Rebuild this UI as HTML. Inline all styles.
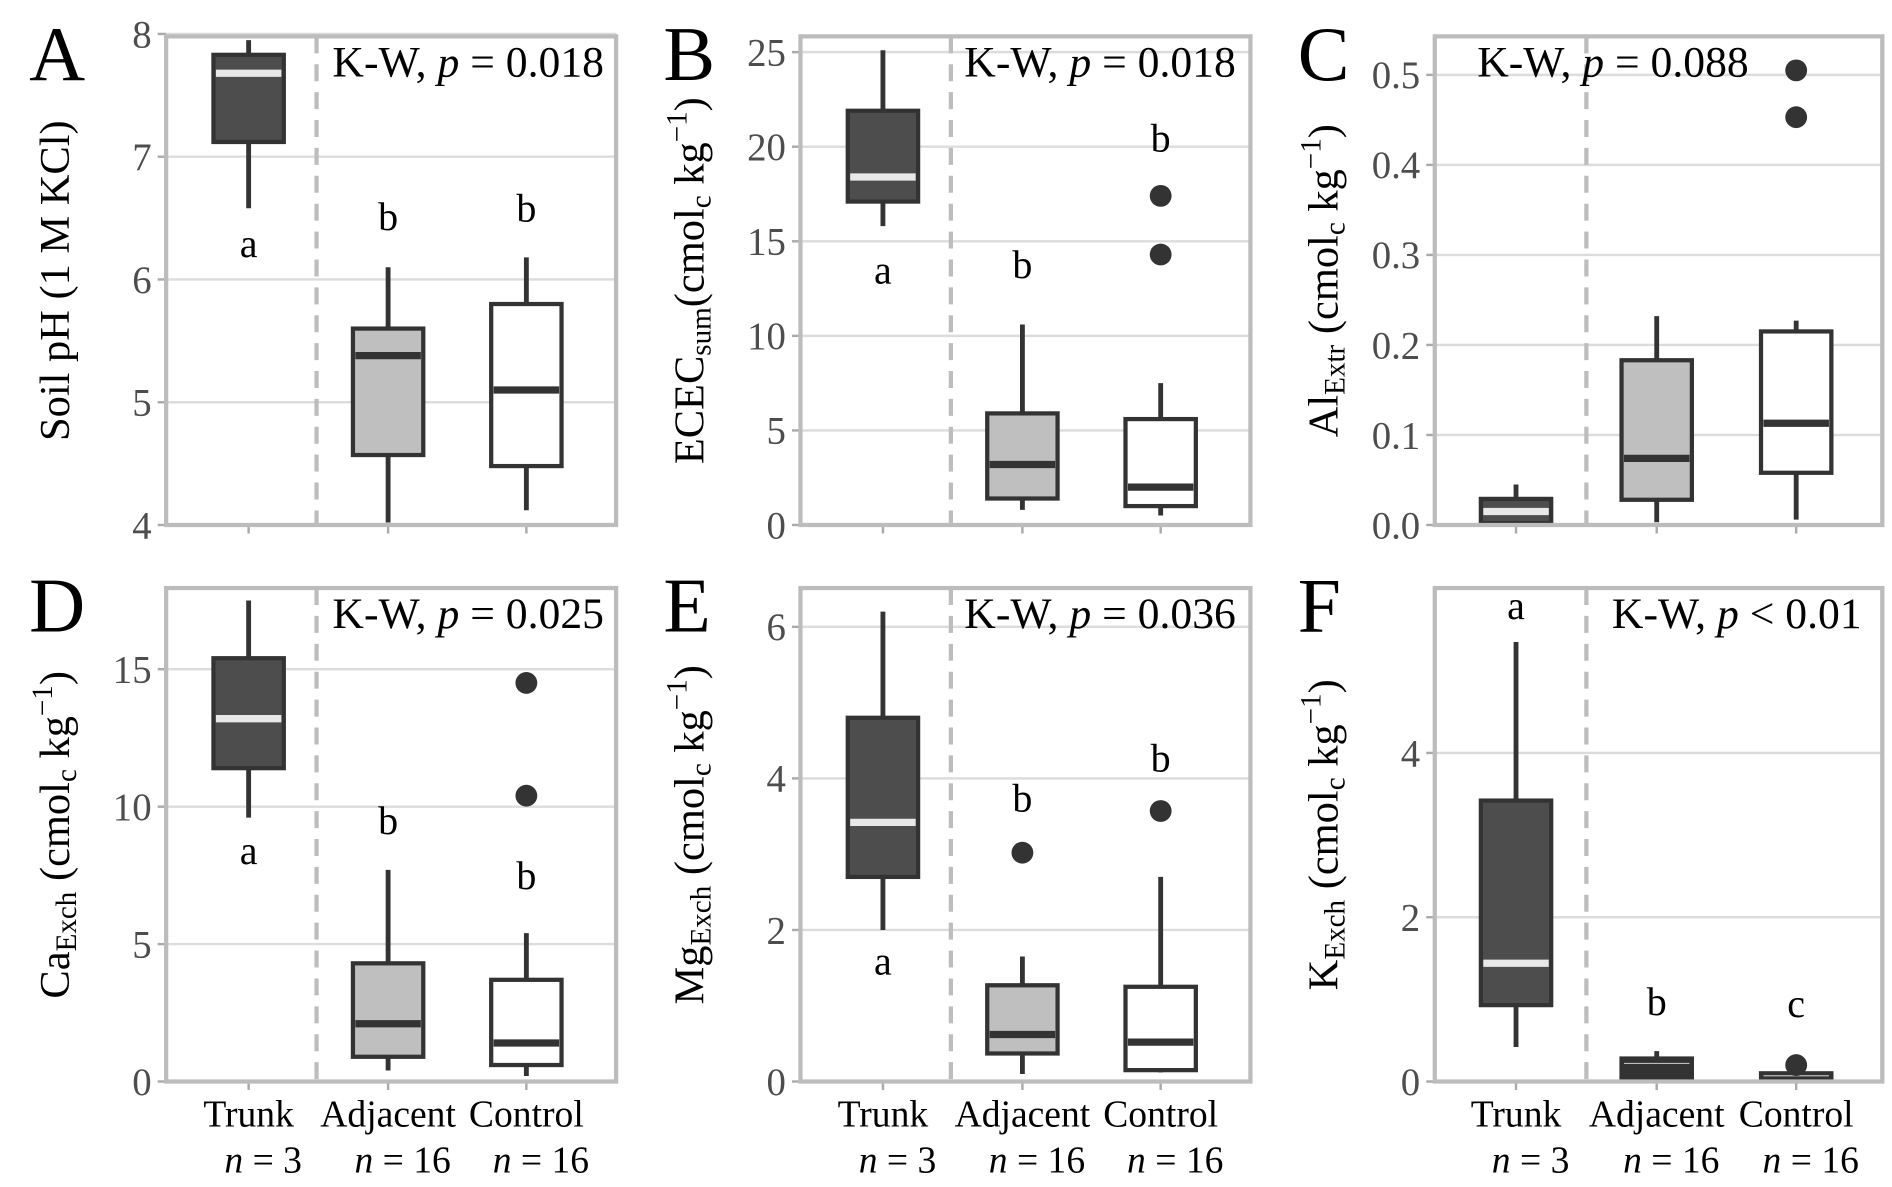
<!DOCTYPE html>
<html><head><meta charset="utf-8"><style>
html,body{margin:0;padding:0;background:#fff}
svg{display:block}
text{font-family:"Liberation Serif",serif}
</style></head><body>
<svg id="fig" width="1892" height="1187" viewBox="0 0 1560 979" preserveAspectRatio="none"></svg>
<script>
const groups = ["Trunk","Adjacent","Control"];
const groupN = ["n = 3","n = 16","n = 16"];
// per panel: [whiskerLow, q1, median, q3, whiskerHigh] for Trunk, Adjacent, Control
const statsA = [[6.58,7.12,7.68,7.83,7.95],[4.02,4.57,5.38,5.6,6.1],[4.12,4.48,5.1,5.8,6.18]];
const statsB = [[15.8,17.1,18.4,21.9,25.1],[0.8,1.4,3.2,5.9,10.6],[0.5,1.0,2.0,5.6,7.5]];
const statsC = [[0.0,0.002,0.015,0.029,0.045],[0.003,0.028,0.074,0.183,0.232],[0.006,0.058,0.113,0.215,0.227]];
const statsD = [[9.6,11.4,13.2,15.4,17.5],[0.4,0.9,2.1,4.3,7.7],[0.2,0.6,1.4,3.7,5.4]];
const statsE = [[2.0,2.7,3.42,4.8,6.2],[0.1,0.37,0.62,1.27,1.65],[0.12,0.15,0.52,1.25,2.7]];
const statsF = [[0.42,0.93,1.44,3.42,5.35],[0.05,0.05,0.22,0.28,0.37],[0.0,0.03,0.07,0.1,0.1]];
const outliersA = [[],[],[]];
const outliersB = [[],[],[17.4,14.3]];
const outliersC = [[],[],[0.505,0.453]];
const outliersD = [[],[],[14.5,10.4]];
const outliersE = [[],[3.02],[3.57]];
const outliersF = [[],[],[0.2]];
const lettersA = ["a","b","b"], letterPosA = [6.28,6.5,6.57];
const lettersB = ["a","b","b"], letterPosB = [13.4,13.7,20.4];
const lettersC = ["","",""], letterPosC = [0,0,0];
const lettersD = ["a","b","b"], letterPosD = [8.35,9.45,7.45];
const lettersE = ["a","b","b"], letterPosE = [1.57,3.72,4.25];
const lettersF = ["a","b","c"], letterPosF = [5.78,0.96,0.93];
const ticksA = [4,5,6,7,8], tickLabA = ["4","5","6","7","8"];
const ticksB = [0,5,10,15,20,25], tickLabB = ["0","5","10","15","20","25"];
const ticksC = [0,0.1,0.2,0.3,0.4,0.5], tickLabC = ["0.0","0.1","0.2","0.3","0.4","0.5"];
const ticksD = [0,5,10,15], tickLabD = ["0","5","10","15"];
const ticksE = [0,2,4,6], tickLabE = ["0","2","4","6"];
const ticksF = [0,2,4], tickLabF = ["0","2","4"];

const NS="http://www.w3.org/2000/svg";
const svg=document.getElementById('fig');
function mk(tag,attrs,parent){const e=document.createElementNS(NS,tag);for(const k in attrs)e.setAttribute(k,attrs[k]);(parent||svg).appendChild(e);return e;}

const panels=[
 {id:"a",L:"A",col:0,row:0,min:4,pxu:101.25,stats:statsA,out:outliersA,let:lettersA,lp:letterPosA,ticks:ticksA,tl:tickLabA,kw:["K-W, ","p"," = 0.018"],kwAnchor:"end",kwX:498,
  ylab:[["Soil pH (1 M KCl)",""]],dark:[false,false,false]},
 {id:"b",L:"B",col:1,row:0,min:0,pxu:15.6,stats:statsB,out:outliersB,let:lettersB,lp:letterPosB,ticks:ticksB,tl:tickLabB,kw:["K-W, ","p"," = 0.018"],kwAnchor:"end",kwX:1019,
  ylab:[["ECEC",""],["sum","sub"],["(cmol",""],["c","sub"],[" kg",""],["−1","sup"],[")",""]],dark:[false,false,false]},
 {id:"c",L:"C",col:2,row:0,min:0,pxu:742.5,stats:statsC,out:outliersC,let:lettersC,lp:letterPosC,ticks:ticksC,tl:tickLabC,kw:["K-W,  ","p"," = 0.088"],kwAnchor:"start",kwX:1218,
  ylab:[["Al",""],["Extr","sub"],[" (cmol",""],["c","sub"],[" kg",""],["−1","sup"],[")",""]],dark:[false,false,false]},
 {id:"d",L:"D",col:0,row:1,min:0,pxu:22.67,stats:statsD,out:outliersD,let:lettersD,lp:letterPosD,ticks:ticksD,tl:tickLabD,kw:["K-W, ","p"," = 0.025"],kwAnchor:"end",kwX:498,
  ylab:[["Ca",""],["Exch","sub"],[" (cmol",""],["c","sub"],[" kg",""],["−1","sup"],[")",""]],dark:[false,false,false]},
 {id:"e",L:"E",col:1,row:1,min:0,pxu:62.5,stats:statsE,out:outliersE,let:lettersE,lp:letterPosE,ticks:ticksE,tl:tickLabE,kw:["K-W, ","p"," = 0.036"],kwAnchor:"end",kwX:1019,
  ylab:[["Mg",""],["Exch","sub"],[" (cmol",""],["c","sub"],[" kg",""],["−1","sup"],[")",""]],dark:[false,false,false]},
 {id:"f",L:"F",col:2,row:1,min:0,pxu:67.75,stats:statsF,out:outliersF,let:lettersF,lp:letterPosF,ticks:ticksF,tl:tickLabF,kw:["K-W, ","p"," < 0.01"],kwAnchor:"end",kwX:1535,
  ylab:[["K",""],["Exch","sub"],[" (cmol",""],["c","sub"],[" kg",""],["−1","sup"],[")",""]],dark:[false,true,true]}
];
const fills=["#4d4d4d","#bfbfbf","#ffffff"];
const medCol=["#e8e8e8","#333333","#333333"];

panels.forEach(p=>{
 const off=p.col*523, x0=137+off, x1=(p.col===2?1552:508+off);
 const top=p.row?485:30, bot=p.row?892:433;
 const y=v=>bot-(v-p.min)*p.pxu;
 const cx=[205+off,320+off,434+off].map((v,i)=>p.col===2?[1250,1366,1481][i]:v);
 const sepX=p.col===2?1308:261+off;
 const g=mk('g',{});
 
 
 p.ticks.forEach((t,i)=>{
  const gl=mk('line',{x1:x0,x2:x1,y1:y(t),y2:y(t),stroke:"#dcdcdc","stroke-width":2},g);
  
  
  const tk=mk('line',{x1:x0-7,x2:x0,y1:y(t),y2:y(t),stroke:"#aaa","stroke-width":2},g);
  
  
  const tt=mk('text',{x:x0-12,y:y(t)+11,"text-anchor":"end","font-size":32,fill:"#4d4d4d"},g);
  tt.textContent=p.tl[i];
  
  
 });
 const ds=mk('line',{x1:sepX,x2:sepX,y1:top,y2:bot,stroke:"#bdbdbd","stroke-width":3.5,"stroke-dasharray":"14,9"},g);
 
 
 p.stats.forEach((s,i)=>{
  const hw=29;
  const wl=mk('line',{x1:cx[i],x2:cx[i],y1:y(s[0]),y2:y(s[4]),stroke:"#333","stroke-width":4},g);
  
  
  const fill=p.dark[i]?"#333":fills[i];
  const bx=mk('rect',{x:cx[i]-hw,y:y(s[3]),width:hw*2,height:Math.max(1,y(s[1])-y(s[3])),fill:fill,stroke:"#333","stroke-width":3.5},g);
  
  
  const mc=p.dark[i]?"#bbb":medCol[i];
  const mw=p.dark[i]?1:6;
  const md=mk('line',{x1:cx[i]-hw+2,x2:cx[i]+hw-2,y1:y(s[2]),y2:y(s[2]),stroke:mc,"stroke-width":mw},g);
  
  
  p.out[i].forEach(o=>{
   const c=mk('circle',{cx:cx[i],cy:y(o),r:9,fill:"#333"},g);
   
   
  });
  if(p.let[i]){
   const lt=mk('text',{x:cx[i],y:y(p.lp[i])+10,"text-anchor":"middle","font-size":33,fill:"#000"},g);
   lt.textContent=p.let[i];
   
   
  }
  const xt=mk('line',{x1:cx[i],x2:cx[i],y1:bot,y2:bot+7,stroke:"#aaa","stroke-width":2},g);
  
  
  if(p.row===1){
   const xl=mk('text',{x:cx[i],y:929,"text-anchor":"middle","font-size":31,fill:"#000"},g);
   xl.textContent=groups[i];
   
   
   const nl=mk('text',{x:cx[i]+12,y:967,"text-anchor":"middle","font-size":31,fill:"#000"},g);
   const parts=groupN[i].split(' ');
   const t1=mk('tspan',{"font-style":"italic"},nl);t1.textContent=parts[0];
   const t2=mk('tspan',{},nl);t2.textContent=' '+parts.slice(1).join(' ');
   
   
  }
 });
 const fr=mk('rect',{x:x0,y:top,width:x1-x0,height:bot-top,fill:"none",stroke:"#bcbcbc","stroke-width":3.5},g);
 
 
 const kw=mk('text',{x:p.kwX,y:top+33,"text-anchor":p.kwAnchor,"font-size":36,fill:"#000"},g);
 const k1=mk('tspan',{},kw);k1.textContent=p.kw[0];
 const k2=mk('tspan',{"font-style":"italic"},kw);k2.textContent=p.kw[1];
 const k3=mk('tspan',{},kw);k3.textContent=p.kw[2];
 
 
 const pl=mk('text',{x:24+off,y:top+36,"font-size":64,fill:"#000"},g);
 pl.textContent=p.L;
 
 
 const ym=(top+bot)/2;
 const lx=57+off;
 const yt=mk('text',{x:0,y:0,"text-anchor":"middle","font-size":35,fill:"#000",transform:`translate(${lx},${ym}) rotate(-90)`},g);
 p.ylab.forEach(([s,k])=>{
  const a={};
  if(k==="sub"){a["font-size"]=24;a["baseline-shift"]="-25%";}
  if(k==="sup"){a["font-size"]=24;a["baseline-shift"]="60%";}
  const ts=mk('tspan',a,yt);ts.textContent=s;
 });
 
 
});
</script>
</body></html>
